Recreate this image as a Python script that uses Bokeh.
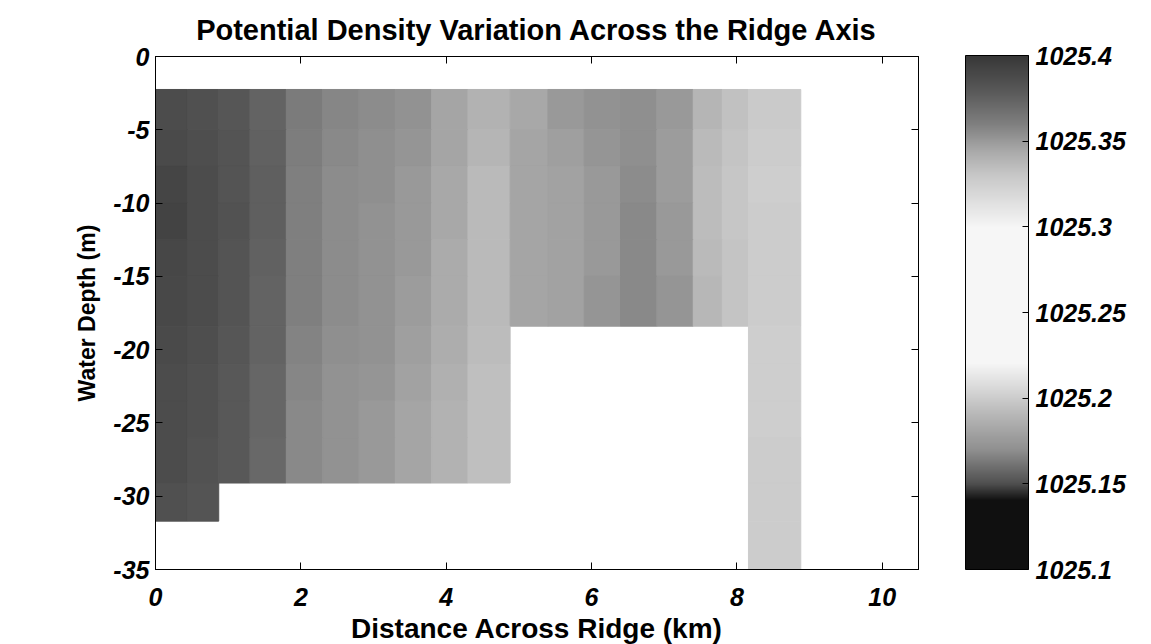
import numpy as np
from bokeh.plotting import figure
from bokeh.models import (ColumnDataSource, LinearColorMapper, ColorBar, FixedTicker,
                          LinearAxis, CustomJSTickFormatter, Range1d)
from bokeh.embed import file_html
from bokeh.resources import INLINE

# ---------------- data ----------------
nan = float("nan")
# cell edges across the ridge (km) and in depth (m)
x_edges = [0.0, 0.44, 0.87, 1.3, 1.8, 2.3, 2.8, 3.3, 3.8, 4.3, 4.88,
           5.4, 5.9, 6.4, 6.9, 7.4, 7.8, 8.16, 8.88]
depth_edges = [-2.25, -5.0, -7.5, -10.0, -12.5, -15.0, -18.4,
               -21.0, -23.5, -26.0, -29.1, -31.7, -35.0]

# potential density (kg/m^3), one list per depth row (top to bottom)
rho_row_01 = [1025.386, 1025.384, 1025.381, 1025.374, 1025.362, 1025.357, 1025.355, 1025.352, 1025.346, 1025.340, 1025.344, 1025.350, 1025.352, 1025.354, 1025.350, 1025.338, 1025.333, 1025.328]
rho_row_02 = [1025.388, 1025.385, 1025.382, 1025.375, 1025.361, 1025.356, 1025.354, 1025.351, 1025.345, 1025.338, 1025.345, 1025.348, 1025.351, 1025.354, 1025.349, 1025.336, 1025.331, 1025.327]
rho_row_03 = [1025.391, 1025.386, 1025.382, 1025.376, 1025.360, 1025.355, 1025.354, 1025.350, 1025.344, 1025.336, 1025.346, 1025.347, 1025.350, 1025.355, 1025.349, 1025.335, 1025.330, 1025.326]
rho_row_04 = [1025.392, 1025.387, 1025.383, 1025.376, 1025.360, 1025.355, 1025.353, 1025.350, 1025.344, 1025.336, 1025.346, 1025.347, 1025.350, 1025.356, 1025.350, 1025.335, 1025.330, 1025.327]
rho_row_05 = [1025.390, 1025.387, 1025.382, 1025.375, 1025.359, 1025.355, 1025.353, 1025.350, 1025.343, 1025.336, 1025.345, 1025.347, 1025.350, 1025.356, 1025.350, 1025.336, 1025.331, 1025.327]
rho_row_06 = [1025.389, 1025.386, 1025.382, 1025.374, 1025.359, 1025.355, 1025.353, 1025.349, 1025.343, 1025.336, 1025.345, 1025.347, 1025.351, 1025.356, 1025.351, 1025.337, 1025.332, 1025.327]
rho_row_07 = [1025.388, 1025.385, 1025.381, 1025.374, 1025.358, 1025.354, 1025.352, 1025.348, 1025.342, 1025.335, nan, nan, nan, nan, nan, nan, nan, 1025.326]
rho_row_08 = [1025.387, 1025.384, 1025.380, 1025.373, 1025.357, 1025.353, 1025.351, 1025.347, 1025.341, 1025.334, nan, nan, nan, nan, nan, nan, nan, 1025.326]
rho_row_09 = [1025.386, 1025.384, 1025.380, 1025.372, 1025.356, 1025.352, 1025.350, 1025.346, 1025.340, 1025.334, nan, nan, nan, nan, nan, nan, nan, 1025.326]
rho_row_10 = [1025.386, 1025.383, 1025.379, 1025.371, 1025.356, 1025.352, 1025.350, 1025.346, 1025.340, 1025.334, nan, nan, nan, nan, nan, nan, nan, 1025.327]
rho_row_11 = [1025.384, 1025.382, nan, nan, nan, nan, nan, nan, nan, nan, nan, nan, nan, nan, nan, nan, nan, 1025.327]
rho_row_12 = [nan, nan, nan, nan, nan, nan, nan, nan, nan, nan, nan, nan, nan, nan, nan, nan, nan, 1025.327]

x_ticks = [0, 2, 4, 6, 8, 10]
y_ticks = [0, -5, -10, -15, -20, -25, -30, -35]
y_tick_labels = ["0", "-5", "-10", "-15", "-20", "-25", "-30", "-35"]
cbar_ticks = [1025.1, 1025.15, 1025.2, 1025.25, 1025.3, 1025.35, 1025.4]
cbar_labels = ["1025.1", "1025.15", "1025.2", "1025.25", "1025.3", "1025.35", "1025.4"]
title_text = "Potential Density Variation Across the Ridge Axis"

rho_rows = [rho_row_01, rho_row_02, rho_row_03, rho_row_04, rho_row_05, rho_row_06,
            rho_row_07, rho_row_08, rho_row_09, rho_row_10, rho_row_11, rho_row_12]

# ---------------- grey colour map (style) ----------------
ctrl_v = [1025.100, 1025.140, 1025.150, 1025.170, 1025.190, 1025.205, 1025.220,
          1025.300, 1025.315, 1025.330, 1025.345, 1025.360, 1025.380, 1025.400]
ctrl_g = [16, 16, 80, 144, 184, 216, 246, 246, 224, 200, 168, 128, 88, 56]
steps = np.linspace(1025.1, 1025.4, 256)
greys = np.interp(steps, ctrl_v, ctrl_g).astype(int)
palette = ["#%02x%02x%02x" % (g, g, g) for g in greys]
mapper = LinearColorMapper(palette=palette, low=1025.1, high=1025.4)

# ---------------- build cells ----------------
L, R, T, B, V = [], [], [], [], []
for i, row in enumerate(rho_rows):
    for j, v in enumerate(row):
        if v == v:
            L.append(x_edges[j]); R.append(x_edges[j + 1])
            T.append(depth_edges[i]); B.append(depth_edges[i + 1]); V.append(v)
src = ColumnDataSource(dict(left=L, right=R, top=T, bottom=B, rho=V))

FONT = "Liberation Sans"

p = figure(frame_width=763, frame_height=513, min_border_left=155, min_border_top=55,
           min_border_bottom=76, min_border_right=0,
           x_range=Range1d(0, 10.5), y_range=Range1d(-35, 0),
           output_backend="svg", toolbar_location=None, title=title_text)
p.quad(left="left", right="right", top="top", bottom="bottom", source=src,
       fill_color={"field": "rho", "transform": mapper},
       line_color={"field": "rho", "transform": mapper}, line_width=1)

p.title.text_font = FONT
p.title.text_font_size = "29px"
p.title.text_font_style = "bold"
p.title.text_color = "black"
p.title.align = "center"
p.title.text_line_height = 0.8
p.title.standoff = 22

p.xgrid.visible = False
p.ygrid.visible = False
p.outline_line_color = "black"
p.outline_line_width = 1
p.background_fill_color = "white"
p.border_fill_color = "white"

for ax, ticks in ((p.xaxis[0], x_ticks), (p.yaxis[0], y_ticks)):
    ax.ticker = FixedTicker(ticks=ticks)
    ax.major_tick_in = 7
    ax.major_tick_out = 0
    ax.minor_tick_line_color = None
    ax.axis_line_color = "black"
    ax.major_label_text_font = FONT
    ax.major_label_text_font_style = "bold italic"
    ax.major_label_text_font_size = "25px"
    ax.major_label_text_color = "black"
    ax.axis_label_text_font = FONT
    ax.axis_label_text_font_style = "bold"
    ax.axis_label_text_font_size = "28px"
    ax.axis_label_text_color = "black"

p.yaxis.major_label_overrides = dict(zip(y_ticks, y_tick_labels))
p.xaxis.axis_label = "Distance Across Ridge (km)"
p.yaxis.axis_label = "Water Depth (m)"
p.yaxis.axis_label_text_font_size = "23px"
p.xaxis.major_label_standoff = 18
p.yaxis.major_label_standoff = 6
p.xaxis.axis_label_standoff = 4
p.yaxis.axis_label_standoff = 10

blank = CustomJSTickFormatter(code="return ''")
top_ax = LinearAxis(ticker=FixedTicker(ticks=x_ticks), formatter=blank,
                    major_tick_in=7, major_tick_out=0, minor_tick_line_color=None,
                    major_label_standoff=0)
right_ax = LinearAxis(ticker=FixedTicker(ticks=y_ticks), formatter=blank,
                      major_tick_in=7, major_tick_out=0, minor_tick_line_color=None,
                      major_label_standoff=0)
p.add_layout(top_ax, "above")

cb = ColorBar(color_mapper=mapper, width=63, height=514, padding=0, margin=0,
              ticker=FixedTicker(ticks=cbar_ticks),
              major_label_overrides=dict(zip(cbar_ticks, cbar_labels)),
              major_label_text_font=FONT, major_label_text_font_style="bold italic",
              major_label_text_font_size="25px", major_label_text_color="black",
              major_tick_in=6, major_tick_out=0, major_tick_line_color="black",
              bar_line_color="black", label_standoff=7, location=(47, 0),
              background_fill_color="white", border_line_color=None)
p.add_layout(right_ax, "right")
p.add_layout(cb, "right")

open("out.html", "w").write(file_html(p, INLINE))
